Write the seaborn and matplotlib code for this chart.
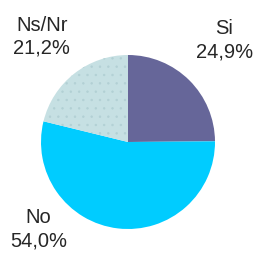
import matplotlib
matplotlib.use("Agg")
import matplotlib.pyplot as plt
import seaborn as sns

sns.set_style("white")
plt.rcParams['font.family'] = ['Liberation Sans', 'DejaVu Sans']
plt.rcParams['hatch.linewidth'] = 0.5

# data
labels = ['Si', 'No', 'Ns/Nr']
values = [24.9, 54.0, 21.2]
pct_text = ['24,9%', '54,0%', '21,2%']
colors = ['#666699', '#00CCFF', '#C6E0E3']

fig = plt.figure(figsize=(2.57, 2.55), dpi=100)
ax = fig.add_axes([41 / 257, 25 / 255, 174 / 257, 174 / 255])

wedges, _ = ax.pie(values, colors=colors, startangle=90, counterclock=False,
                   radius=1, wedgeprops=dict(linewidth=0))
wedges[2].set_hatch('..')
wedges[2].set_edgecolor('#B2D0D4')

ax.set_xlim(-1, 1)
ax.set_ylim(-1, 1)
ax.set_aspect('equal')
ax.axis('off')

# label positions, relative to pie radius
label_pos = {'Si': (1.11, 1.18), 'No': (-1.03, -0.99), 'Ns/Nr': (-0.99, 1.22)}
for lab, pct in zip(labels, pct_text):
    x, y = label_pos[lab]
    ax.text(x, y, lab + '\n' + pct, ha='center', va='center', fontsize=14.5,
            linespacing=1.25, clip_on=False)

fig.savefig('out.png', dpi=100)
